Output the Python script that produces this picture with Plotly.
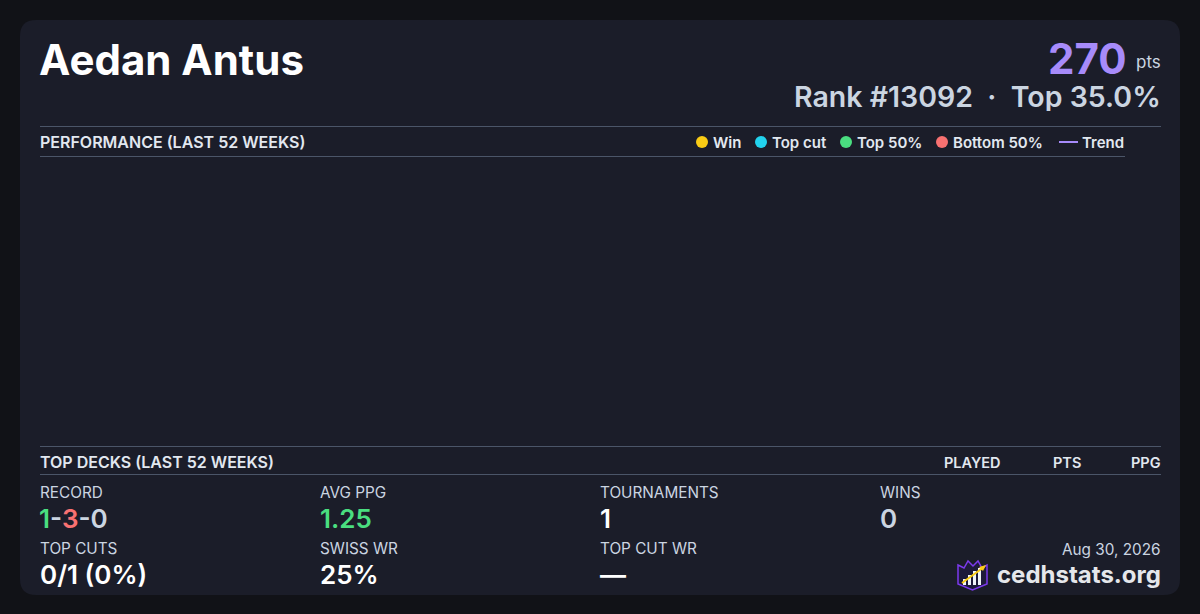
import plotly.graph_objects as go

W, H = 1200, 614

# ---- data ----
player_name = "Aedan Antus"
points = 270
rank = 13092
top_pct = 35.0
legend_names = ["Win", "Top cut", "Top 50%", "Bottom 50%", "Trend"]
legend_colors = ["#facc15", "#22d3ee", "#4ade80", "#f87171", "#a78bfa"]
deck_columns = ["PLAYED", "PTS", "PPG"]
record_wins, record_losses, record_draws = 1, 3, 0
stat_labels_row1 = ["RECORD", "AVG PPG", "TOURNAMENTS", "WINS"]
stat_labels_row2 = ["TOP CUTS", "SWISS WR", "TOP CUT WR"]
avg_ppg = 1.25
tournaments = 1
wins = 0
top_cuts_made, top_cuts_total = 0, 1
swiss_wr = 25
top_cut_wr = None
date_label = "Aug 30, 2026"
site = "cedhstats.org"

FONT = "Inter"
BG = "#111217"
CARD = "#1b1d29"
LINE = "#4b5568"
LABEL = "#cbd5e1"
HEAD = "#e2e8f0"

# legend layout (marker centre x positions in pixels)
LEG_X = [702, 761, 846, 942, 1059]
LEG_Y = 142


def px(x):
    return x / W


def py(y):
    return 1 - y / H


fig = go.Figure()

# empty performance chart (no results in the period)
fig.add_trace(go.Scatter(x=[], y=[], mode="markers", showlegend=False))

shapes = []
# card
r = 16
x0, y0, x1, y1 = 20, 20, 1180, 595
path = (f"M {px(x0+r)},{py(y0)} L {px(x1-r)},{py(y0)} "
        f"Q {px(x1)},{py(y0)} {px(x1)},{py(y0+r)} L {px(x1)},{py(y1-r)} "
        f"Q {px(x1)},{py(y1)} {px(x1-r)},{py(y1)} L {px(x0+r)},{py(y1)} "
        f"Q {px(x0)},{py(y1)} {px(x0)},{py(y1-r)} L {px(x0)},{py(y0+r)} "
        f"Q {px(x0)},{py(y0)} {px(x0+r)},{py(y0)} Z")
shapes.append(dict(type="path", path=path, xref="paper", yref="paper",
                   fillcolor=CARD, line=dict(width=0), layer="below"))


def hline(y, xa, xb):
    shapes.append(dict(type="line", xref="paper", yref="paper",
                       x0=px(xa), x1=px(xb), y0=py(y), y1=py(y),
                       line=dict(color=LINE, width=1)))


hline(126.5, 40, 1161)
hline(156.5, 40, 1125)
hline(446.5, 40, 1161)
hline(474.5, 40, 1161)

# logo (shield with bars and arrow)
lx, ly = 958, 560
shield = [(0, 5), (6, 8), (10, 1), (15, 6), (20, 1), (24, 8), (29, 5), (29, 24), (14.5, 30), (0, 24)]
sp = "M " + " L ".join(f"{px(lx+a)},{py(ly+b)}" for a, b in shield) + " Z"
shapes.append(dict(type="path", path=sp, xref="paper", yref="paper",
                   fillcolor="#1e1b3a", line=dict(color="#7c3aed", width=1.5)))
for bx, bt in [(5, 19), (10, 15), (15, 11), (20, 8)]:
    shapes.append(dict(type="rect", xref="paper", yref="paper",
                       x0=px(lx+bx), x1=px(lx+bx+3), y0=py(ly+25), y1=py(ly+bt),
                       fillcolor="#f1f5f9", line=dict(width=0)))
shapes.append(dict(type="line", xref="paper", yref="paper",
                   x0=px(lx+4), y0=py(ly+23), x1=px(lx+26), y1=py(ly+7),
                   line=dict(color="#facc15", width=2)))
shapes.append(dict(type="path", xref="paper", yref="paper",
                   path=f"M {px(lx+28)},{py(ly+5)} L {px(lx+21)},{py(ly+7)} L {px(lx+25)},{py(ly+11)} Z",
                   fillcolor="#facc15", line=dict(width=0)))

ann = []


def text(x, y, s, size, color, weight=400, xanchor="left", yanchor="middle", height=None):
    a = dict(x=px(x), y=py(y), xref="paper", yref="paper", text=s,
             showarrow=False, xanchor=xanchor, yanchor=yanchor,
             font=dict(family=FONT, size=size, color=color, weight=weight))
    if height is not None:
        a["height"] = height
    ann.append(a)


# legend
for name, col, lxp in zip(legend_names, legend_colors, LEG_X):
    if name == "Trend":
        shapes.append(dict(type="line", xref="paper", yref="paper",
                           x0=px(lxp), x1=px(lxp + 19), y0=py(LEG_Y), y1=py(LEG_Y),
                           line=dict(color=col, width=2)))
        text(lxp + 21, LEG_Y, name, 15, HEAD, 600)
    else:
        shapes.append(dict(type="circle", xref="paper", yref="paper",
                           x0=px(lxp - 6), x1=px(lxp + 6), y0=py(LEG_Y - 6), y1=py(LEG_Y + 6),
                           fillcolor=col, line=dict(width=0)))
        text(lxp + 9, LEG_Y, name, 15, HEAD, 600)

# header
text(37, 59, player_name, 42, "#ffffff", 700)
text(1129, 58, f"{points}", 42, "#a78bfa", 700, xanchor="right", height=42)
text(1163, 62, "pts", 17, LABEL, 400, xanchor="right")
text(1163, 96, f"Rank #{rank}  ·  Top {top_pct:.1f}%", 28.5, LABEL, 600, xanchor="right", height=30)

# section headers
text(38, 142, "PERFORMANCE (LAST 52 WEEKS)", 16, HEAD, 600)
text(38, 462, "TOP DECKS (LAST 52 WEEKS)", 16, HEAD, 600)
for name, xr in zip(deck_columns, [1003, 1083, 1163]):
    text(xr, 462, name, 14.5, HEAD, 600, xanchor="right")

# stats
cols = [38, 318, 598, 878]
for lab, x in zip(stat_labels_row1, cols):
    text(x, 492, lab, 15.3, LABEL, 400)
for lab, x in zip(stat_labels_row2, cols):
    text(x, 548, lab, 15.3, LABEL, 400)

record = (f"<span style='color:#4ade80'>{record_wins}</span>-"
          f"<span style='color:#f87171'>{record_losses}</span>-"
          f"<span style='color:{LABEL}'>{record_draws}</span>")
text(37, 518, record, 26, LABEL, 600)
text(318, 518, f"{avg_ppg:.2f}", 26, "#4ade80", 600)
text(598, 518, f"{tournaments}", 26, "#ffffff", 600)
text(878, 518, f"{wins}", 26, LABEL, 600)
pct = round(100 * top_cuts_made / top_cuts_total)
text(38, 574, f"{top_cuts_made}/{top_cuts_total} ({pct}%)", 26, "#ffffff", 600)
text(318, 574, f"{swiss_wr}%", 26, "#ffffff", 600)
text(598, 574, "—" if top_cut_wr is None else f"{top_cut_wr}%", 26, "#ffffff", 600)
text(1163, 549, date_label, 15.3, LABEL, 400, xanchor="right")
text(1163, 574, site, 24, "#e5e7eb", 700, xanchor="right")

fig.update_layout(
    width=W, height=H,
    margin=dict(l=0, r=0, t=0, b=0),
    paper_bgcolor=BG, plot_bgcolor="rgba(0,0,0,0)",
    font=dict(family=FONT, color=HEAD),
    xaxis=dict(domain=[px(40), px(1125)], visible=False, range=[0, 52]),
    yaxis=dict(domain=[py(445), py(158)], visible=False, range=[0, 1]),
    showlegend=False,
    shapes=shapes, annotations=ann,
)

fig.write_html("out.html", config={"displayModeBar": False},
               post_script="document.body.style.margin='0';document.body.style.background='#111217';")
